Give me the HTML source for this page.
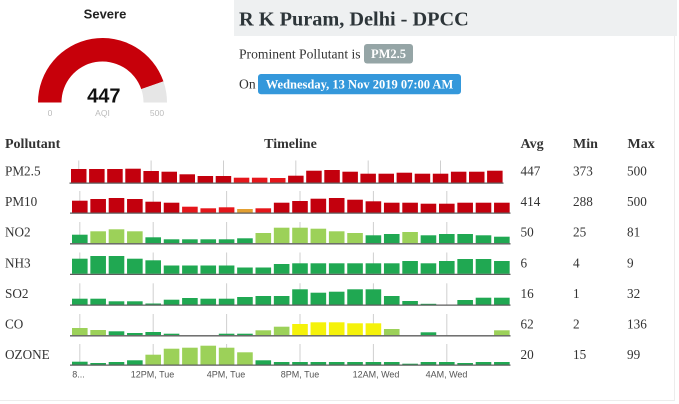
<!DOCTYPE html>
<html><head><meta charset="utf-8"><style>
html,body{margin:0;padding:0;background:#fff;}
body{width:679px;height:404px;overflow:hidden;position:relative;}
svg{position:absolute;left:0;top:0;}
.s{font-family:"Liberation Serif",serif;}
.a{font-family:"Liberation Sans",sans-serif;}
.R{fill:#c3000d}.B{fill:#e5161b}.O{fill:#e3a032}.D{fill:#20a852}.L{fill:#9cd159}.Y{fill:#f5f20a}
.t{stroke:#cfcfcf;stroke-width:1}
.bl{stroke:#5d5d5d;stroke-width:1.3}
</style></head><body>
<svg width="679" height="404" viewBox="0 0 679 404" xmlns="http://www.w3.org/2000/svg">
<!-- header band -->
<rect x="234" y="0" width="443" height="36" fill="#eef0f1"/>
<line x1="674.5" y1="36" x2="674.5" y2="401" stroke="#ececec" stroke-width="1"/>
<line x1="0" y1="400.5" x2="675" y2="400.5" stroke="#ececec" stroke-width="1"/>
<text class="s" x="239" y="25.5" font-size="20.3" font-weight="bold" fill="#2d3539">R K Puram, Delhi - DPCC</text>
<text class="s" x="239" y="58.5" font-size="13.6" fill="#333">Prominent Pollutant is</text>
<rect x="364" y="44" width="49" height="19.5" rx="3" fill="#95a5a6"/>
<text class="s" x="388.5" y="58" font-size="12.5" font-weight="bold" fill="#fff" text-anchor="middle">PM2.5</text>
<text class="s" x="239" y="88.5" font-size="13.6" fill="#333">On</text>
<rect x="258" y="74" width="203" height="20.3" rx="3" fill="#3498db"/>
<text class="s" x="359.5" y="88.5" font-size="12.5" font-weight="bold" fill="#fff" text-anchor="middle">Wednesday, 13 Nov 2019 07:00 AM</text>

<!-- gauge -->
<text class="a" x="105" y="18.3" font-size="13" font-weight="bold" fill="#222" text-anchor="middle">Severe</text>
<path d="M38 102.5 A64.5 64.5 0 0 1 163.45 81.4 L141.25 89.1 A41 41 0 0 0 61.5 102.5 Z" fill="#c7000a"/>
<path d="M163.45 81.4 A64.5 64.5 0 0 1 167 102.5 L143.5 102.5 A41 41 0 0 0 141.25 89.1 Z" fill="#e6e6e6"/>
<text class="a" x="103.8" y="102.3" font-size="20" font-weight="bold" fill="#111" text-anchor="middle">447</text>
<text class="a" x="50" y="116" font-size="8.5" fill="#bbb" text-anchor="middle">0</text>
<text class="a" x="102.5" y="116" font-size="8.5" fill="#bbb" text-anchor="middle">AQI</text>
<text class="a" x="157" y="116" font-size="8.5" fill="#bbb" text-anchor="middle">500</text>

<!-- table header -->
<g class="s" font-size="14" font-weight="bold" fill="#333">
<text x="5" y="148">Pollutant</text>
<text x="290.5" y="148" text-anchor="middle">Timeline</text>
<text x="520.5" y="148">Avg</text>
<text x="573" y="148">Min</text>
<text x="627.5" y="148">Max</text>
</g>

<!-- row labels & values -->
<g class="s" font-size="13.2" fill="#333">
<text x="5" y="175.5">PM2.5</text><text x="520.5" y="175.5">447</text><text x="573" y="175.5">373</text><text x="627" y="175.5">500</text>
<text x="5" y="206">PM10</text><text x="520.5" y="206">414</text><text x="573" y="206">288</text><text x="627" y="206">500</text>
<text x="5" y="236.5">NO2</text><text x="520.5" y="236.5">50</text><text x="573" y="236.5">25</text><text x="627" y="236.5">81</text>
<text x="5" y="267.5">NH3</text><text x="520.5" y="267.5">6</text><text x="573" y="267.5">4</text><text x="627" y="267.5">9</text>
<text x="5" y="298">SO2</text><text x="520.5" y="298">16</text><text x="573" y="298">1</text><text x="627" y="298">32</text>
<text x="5" y="328.5">CO</text><text x="520.5" y="328.5">62</text><text x="573" y="328.5">2</text><text x="627" y="328.5">136</text>
<text x="5" y="359">OZONE</text><text x="520.5" y="359">20</text><text x="573" y="359">15</text><text x="627" y="359">99</text>
</g>

<!-- ticks -->
<g class="t">
<line x1="78.75" y1="160.5" x2="78.75" y2="182.5"/><line x1="151.1" y1="160.5" x2="151.1" y2="182.5"/><line x1="223.5" y1="160.5" x2="223.5" y2="182.5"/><line x1="295.8" y1="160.5" x2="295.8" y2="182.5"/><line x1="368.2" y1="160.5" x2="368.2" y2="182.5"/><line x1="440.5" y1="160.5" x2="440.5" y2="182.5"/>
<line x1="79.8" y1="191" x2="79.8" y2="212.5"/><line x1="153.2" y1="191" x2="153.2" y2="212.5"/><line x1="226.6" y1="191" x2="226.6" y2="212.5"/><line x1="300" y1="191" x2="300" y2="212.5"/><line x1="373.4" y1="191" x2="373.4" y2="212.5"/><line x1="446.8" y1="191" x2="446.8" y2="212.5"/>
<line x1="79.8" y1="222" x2="79.8" y2="243.2"/><line x1="153.2" y1="222" x2="153.2" y2="243.2"/><line x1="226.6" y1="222" x2="226.6" y2="243.2"/><line x1="300" y1="222" x2="300" y2="243.2"/><line x1="373.4" y1="222" x2="373.4" y2="243.2"/><line x1="446.8" y1="222" x2="446.8" y2="243.2"/>
<line x1="79.8" y1="252.5" x2="79.8" y2="273.8"/><line x1="153.2" y1="252.5" x2="153.2" y2="273.8"/><line x1="226.6" y1="252.5" x2="226.6" y2="273.8"/><line x1="300" y1="252.5" x2="300" y2="273.8"/><line x1="373.4" y1="252.5" x2="373.4" y2="273.8"/><line x1="446.8" y1="252.5" x2="446.8" y2="273.8"/>
<line x1="79.8" y1="283.3" x2="79.8" y2="304.5"/><line x1="153.2" y1="283.3" x2="153.2" y2="304.5"/><line x1="226.6" y1="283.3" x2="226.6" y2="304.5"/><line x1="300" y1="283.3" x2="300" y2="304.5"/><line x1="373.4" y1="283.3" x2="373.4" y2="304.5"/><line x1="446.8" y1="283.3" x2="446.8" y2="304.5"/>
<line x1="79.8" y1="314" x2="79.8" y2="335.2"/><line x1="153.2" y1="314" x2="153.2" y2="335.2"/><line x1="226.6" y1="314" x2="226.6" y2="335.2"/><line x1="300" y1="314" x2="300" y2="335.2"/><line x1="373.4" y1="314" x2="373.4" y2="335.2"/><line x1="446.8" y1="314" x2="446.8" y2="335.2"/>
<line x1="79.8" y1="344" x2="79.8" y2="364.5"/><line x1="153.2" y1="344" x2="153.2" y2="364.5"/><line x1="226.6" y1="344" x2="226.6" y2="364.5"/><line x1="300" y1="344" x2="300" y2="364.5"/><line x1="373.4" y1="344" x2="373.4" y2="364.5"/><line x1="446.8" y1="344" x2="446.8" y2="364.5"/>
</g>

<!-- PM2.5 -->
<g>
<rect class="R" x="71" y="169" width="15.5" height="13.5"/>
<rect class="R" x="89.1" y="169" width="15.5" height="13.5"/>
<rect class="R" x="107.2" y="169" width="15.5" height="13.5"/>
<rect class="R" x="125.3" y="168.7" width="15.5" height="13.8"/>
<rect class="R" x="143.4" y="171" width="15.5" height="11.5"/>
<rect class="R" x="161.5" y="171.7" width="15.5" height="10.8"/>
<rect class="R" x="179.5" y="174.3" width="15.5" height="8.2"/>
<rect class="R" x="197.6" y="176" width="15.5" height="6.5"/>
<rect class="R" x="215.7" y="176" width="15.5" height="6.5"/>
<rect class="B" x="233.8" y="177.7" width="15.5" height="4.8"/>
<rect class="B" x="251.9" y="177.7" width="15.5" height="4.8"/>
<rect class="B" x="270" y="178" width="15.5" height="4.5"/>
<rect class="R" x="288.1" y="175.7" width="15.5" height="6.8"/>
<rect class="R" x="306.2" y="170.7" width="15.5" height="11.8"/>
<rect class="R" x="324.3" y="170" width="15.5" height="12.5"/>
<rect class="R" x="342.4" y="171.7" width="15.5" height="10.8"/>
<rect class="R" x="360.4" y="173.7" width="15.5" height="8.8"/>
<rect class="R" x="378.5" y="173.7" width="15.5" height="8.8"/>
<rect class="R" x="396.6" y="172.7" width="15.5" height="9.8"/>
<rect class="R" x="414.7" y="173.7" width="15.5" height="8.8"/>
<rect class="R" x="432.8" y="173.7" width="15.5" height="8.8"/>
<rect class="R" x="450.9" y="171.7" width="15.5" height="10.8"/>
<rect class="R" x="469" y="171.7" width="15.5" height="10.8"/>
<rect class="R" x="487.1" y="170.7" width="15.5" height="11.8"/>
<line class="bl" x1="69.5" y1="183.1" x2="503.5" y2="183.1"/>
</g>

<!-- PM10 -->
<g>
<rect class="R" x="72" y="200.7" width="15.6" height="11.8"/>
<rect class="R" x="90.35" y="199" width="15.6" height="13.5"/>
<rect class="R" x="108.7" y="198" width="15.6" height="14.5"/>
<rect class="R" x="127.05" y="199" width="15.6" height="13.5"/>
<rect class="R" x="145.4" y="201.7" width="15.6" height="10.8"/>
<rect class="R" x="163.75" y="202.7" width="15.6" height="9.8"/>
<rect class="B" x="182.1" y="206.7" width="15.6" height="5.8"/>
<rect class="B" x="200.45" y="208.3" width="15.6" height="4.2"/>
<rect class="B" x="218.8" y="207.3" width="15.6" height="5.2"/>
<rect class="O" x="237.15" y="209" width="15.6" height="3.5"/>
<rect class="B" x="255.5" y="208.3" width="15.6" height="4.2"/>
<rect class="R" x="273.85" y="202.7" width="15.6" height="9.8"/>
<rect class="R" x="292.2" y="201" width="15.6" height="11.5"/>
<rect class="R" x="310.55" y="198.7" width="15.6" height="13.8"/>
<rect class="R" x="328.9" y="198" width="15.6" height="14.5"/>
<rect class="R" x="347.25" y="199.7" width="15.6" height="12.8"/>
<rect class="R" x="365.6" y="201.3" width="15.6" height="11.2"/>
<rect class="R" x="383.95" y="202.7" width="15.6" height="9.8"/>
<rect class="R" x="402.3" y="202.7" width="15.6" height="9.8"/>
<rect class="R" x="420.65" y="203.7" width="15.6" height="8.8"/>
<rect class="R" x="439" y="203.7" width="15.6" height="8.8"/>
<rect class="R" x="457.35" y="202.7" width="15.6" height="9.8"/>
<rect class="R" x="475.7" y="202.7" width="15.6" height="9.8"/>
<rect class="R" x="494.05" y="202.7" width="15.6" height="9.8"/>
<line class="bl" x1="70" y1="213.1" x2="510.5" y2="213.1"/>
</g>

<!-- NO2 -->
<g>
<rect class="D" x="72" y="234.7" width="15.6" height="8.5"/>
<rect class="L" x="90.35" y="231.3" width="15.6" height="11.9"/>
<rect class="L" x="108.7" y="229.3" width="15.6" height="13.9"/>
<rect class="L" x="127.05" y="231.3" width="15.6" height="11.9"/>
<rect class="D" x="145.4" y="237.3" width="15.6" height="5.9"/>
<rect class="D" x="163.75" y="239.3" width="15.6" height="3.9"/>
<rect class="D" x="182.1" y="239.3" width="15.6" height="3.9"/>
<rect class="D" x="200.45" y="239.3" width="15.6" height="3.9"/>
<rect class="D" x="218.8" y="239.3" width="15.6" height="3.9"/>
<rect class="D" x="237.15" y="238.3" width="15.6" height="4.9"/>
<rect class="L" x="255.5" y="233" width="15.6" height="10.2"/>
<rect class="L" x="273.85" y="227.7" width="15.6" height="15.5"/>
<rect class="L" x="292.2" y="227.7" width="15.6" height="15.5"/>
<rect class="L" x="310.55" y="228.7" width="15.6" height="14.5"/>
<rect class="L" x="328.9" y="231.3" width="15.6" height="11.9"/>
<rect class="L" x="347.25" y="233" width="15.6" height="10.2"/>
<rect class="D" x="365.6" y="235.3" width="15.6" height="7.9"/>
<rect class="D" x="383.95" y="234" width="15.6" height="9.2"/>
<rect class="L" x="402.3" y="232" width="15.6" height="11.2"/>
<rect class="D" x="420.65" y="235.3" width="15.6" height="7.9"/>
<rect class="D" x="439" y="234" width="15.6" height="9.2"/>
<rect class="D" x="457.35" y="234" width="15.6" height="9.2"/>
<rect class="D" x="475.7" y="235.3" width="15.6" height="7.9"/>
<rect class="D" x="494.05" y="236.7" width="15.6" height="6.5"/>
<line class="bl" x1="70" y1="243.8" x2="510.5" y2="243.8"/>
</g>

<!-- NH3 -->
<g class="D">
<rect x="72" y="258.7" width="15.6" height="15.1"/>
<rect x="90.35" y="256" width="15.6" height="17.8"/>
<rect x="108.7" y="256" width="15.6" height="17.8"/>
<rect x="127.05" y="258.7" width="15.6" height="15.1"/>
<rect x="145.4" y="260.3" width="15.6" height="13.5"/>
<rect x="163.75" y="265.5" width="15.6" height="8.3"/>
<rect x="182.1" y="265.5" width="15.6" height="8.3"/>
<rect x="200.45" y="265.5" width="15.6" height="8.3"/>
<rect x="218.8" y="265.5" width="15.6" height="8.3"/>
<rect x="237.15" y="267.5" width="15.6" height="6.3"/>
<rect x="255.5" y="267.5" width="15.6" height="6.3"/>
<rect x="273.85" y="264" width="15.6" height="9.8"/>
<rect x="292.2" y="263.3" width="15.6" height="10.5"/>
<rect x="310.55" y="263.3" width="15.6" height="10.5"/>
<rect x="328.9" y="263.3" width="15.6" height="10.5"/>
<rect x="347.25" y="263.3" width="15.6" height="10.5"/>
<rect x="365.6" y="263.3" width="15.6" height="10.5"/>
<rect x="383.95" y="263.3" width="15.6" height="10.5"/>
<rect x="402.3" y="261" width="15.6" height="12.8"/>
<rect x="420.65" y="263.3" width="15.6" height="10.5"/>
<rect x="439" y="261" width="15.6" height="12.8"/>
<rect x="457.35" y="259" width="15.6" height="14.8"/>
<rect x="475.7" y="259" width="15.6" height="14.8"/>
<rect x="494.05" y="261" width="15.6" height="12.8"/>
</g>
<line class="bl" x1="70" y1="274.4" x2="510.5" y2="274.4"/>

<!-- SO2 -->
<g class="D">
<rect x="72" y="298.7" width="15.6" height="5.8"/>
<rect x="90.35" y="298.7" width="15.6" height="5.8"/>
<rect x="108.7" y="301.3" width="15.6" height="3.2"/>
<rect x="127.05" y="301.3" width="15.6" height="3.2"/>
<rect x="145.4" y="303.5" width="15.6" height="1"/>
<rect x="163.75" y="299.7" width="15.6" height="4.8"/>
<rect x="182.1" y="298" width="15.6" height="6.5"/>
<rect x="200.45" y="298.7" width="15.6" height="5.8"/>
<rect x="218.8" y="298.7" width="15.6" height="5.8"/>
<rect x="237.15" y="297" width="15.6" height="7.5"/>
<rect x="255.5" y="296" width="15.6" height="8.5"/>
<rect x="273.85" y="296" width="15.6" height="8.5"/>
<rect x="292.2" y="289.3" width="15.6" height="15.2"/>
<rect x="310.55" y="292.7" width="15.6" height="11.8"/>
<rect x="328.9" y="291.7" width="15.6" height="12.8"/>
<rect x="347.25" y="289.3" width="15.6" height="15.2"/>
<rect x="365.6" y="289.3" width="15.6" height="15.2"/>
<rect x="383.95" y="296" width="15.6" height="8.5"/>
<rect x="402.3" y="301" width="15.6" height="3.5"/>
<rect x="420.65" y="303.8" width="15.6" height="0.7"/>
<rect x="457.35" y="300" width="15.6" height="4.5"/>
<rect x="475.7" y="297.7" width="15.6" height="6.8"/>
<rect x="494.05" y="297.7" width="15.6" height="6.8"/>
</g>
<line class="bl" x1="70" y1="305.1" x2="510.5" y2="305.1"/>

<!-- CO -->
<g>
<rect class="L" x="72" y="328" width="15.6" height="7.2"/>
<rect class="L" x="90.35" y="330" width="15.6" height="5.2"/>
<rect class="D" x="108.7" y="331.3" width="15.6" height="3.9"/>
<rect class="D" x="127.05" y="333" width="15.6" height="2.2"/>
<rect class="D" x="145.4" y="332" width="15.6" height="3.2"/>
<rect class="D" x="163.75" y="333.7" width="15.6" height="1.5"/>
<rect class="D" x="218.8" y="333.7" width="15.6" height="1.5"/>
<rect class="D" x="237.15" y="333.7" width="15.6" height="1.5"/>
<rect class="L" x="255.5" y="330.3" width="15.6" height="4.9"/>
<rect class="L" x="273.85" y="326.7" width="15.6" height="8.5"/>
<rect class="Y" x="292.2" y="324" width="15.6" height="11.2"/>
<rect class="Y" x="310.55" y="322.3" width="15.6" height="12.9"/>
<rect class="Y" x="328.9" y="322.3" width="15.6" height="12.9"/>
<rect class="Y" x="347.25" y="323.3" width="15.6" height="11.9"/>
<rect class="Y" x="365.6" y="323.3" width="15.6" height="11.9"/>
<rect class="L" x="383.95" y="329" width="15.6" height="6.2"/>
<rect class="D" x="420.65" y="332.3" width="15.6" height="2.9"/>
<rect class="L" x="494.05" y="330.3" width="15.6" height="4.9"/>
<line class="bl" x1="70" y1="335.8" x2="510.5" y2="335.8"/>
</g>

<!-- OZONE -->
<g>
<rect class="D" x="72" y="361.7" width="15.6" height="2.8"/>
<rect class="D" x="90.35" y="363" width="15.6" height="1.5"/>
<rect class="D" x="108.7" y="362" width="15.6" height="2.5"/>
<rect class="D" x="127.05" y="360.3" width="15.6" height="4.2"/>
<rect class="L" x="145.4" y="354.7" width="15.6" height="9.8"/>
<rect class="L" x="163.75" y="348.7" width="15.6" height="15.8"/>
<rect class="L" x="182.1" y="347.7" width="15.6" height="16.8"/>
<rect class="L" x="200.45" y="345.7" width="15.6" height="18.8"/>
<rect class="L" x="218.8" y="347.7" width="15.6" height="16.8"/>
<rect class="L" x="237.15" y="352.3" width="15.6" height="12.2"/>
<rect class="D" x="255.5" y="360.3" width="15.6" height="4.2"/>
<rect class="D" x="273.85" y="362" width="15.6" height="2.5"/>
<rect class="D" x="292.2" y="362" width="15.6" height="2.5"/>
<rect class="D" x="310.55" y="362" width="15.6" height="2.5"/>
<rect class="D" x="328.9" y="362" width="15.6" height="2.5"/>
<rect class="D" x="347.25" y="362" width="15.6" height="2.5"/>
<rect class="D" x="365.6" y="362" width="15.6" height="2.5"/>
<rect class="D" x="383.95" y="362" width="15.6" height="2.5"/>
<rect class="D" x="402.3" y="363.7" width="15.6" height="0.8"/>
<rect class="D" x="420.65" y="362" width="15.6" height="2.5"/>
<rect class="D" x="439" y="362" width="15.6" height="2.5"/>
<rect class="D" x="457.35" y="363" width="15.6" height="1.5"/>
<rect class="D" x="475.7" y="362" width="15.6" height="2.5"/>
<rect class="D" x="494.05" y="362" width="15.6" height="2.5"/>
<line class="bl" x1="70" y1="365.1" x2="510.5" y2="365.1"/>
</g>

<!-- x labels -->
<g class="a" font-size="9" fill="#555" text-anchor="middle">
<text x="78.5" y="377.3">8...</text>
<text x="152.5" y="377.3">12PM, Tue</text>
<text x="226" y="377.3">4PM, Tue</text>
<text x="300" y="377.3">8PM, Tue</text>
<text x="376" y="377.3">12AM, Wed</text>
<text x="446.5" y="377.3">4AM, Wed</text>
</g>
</svg>
</body></html>
